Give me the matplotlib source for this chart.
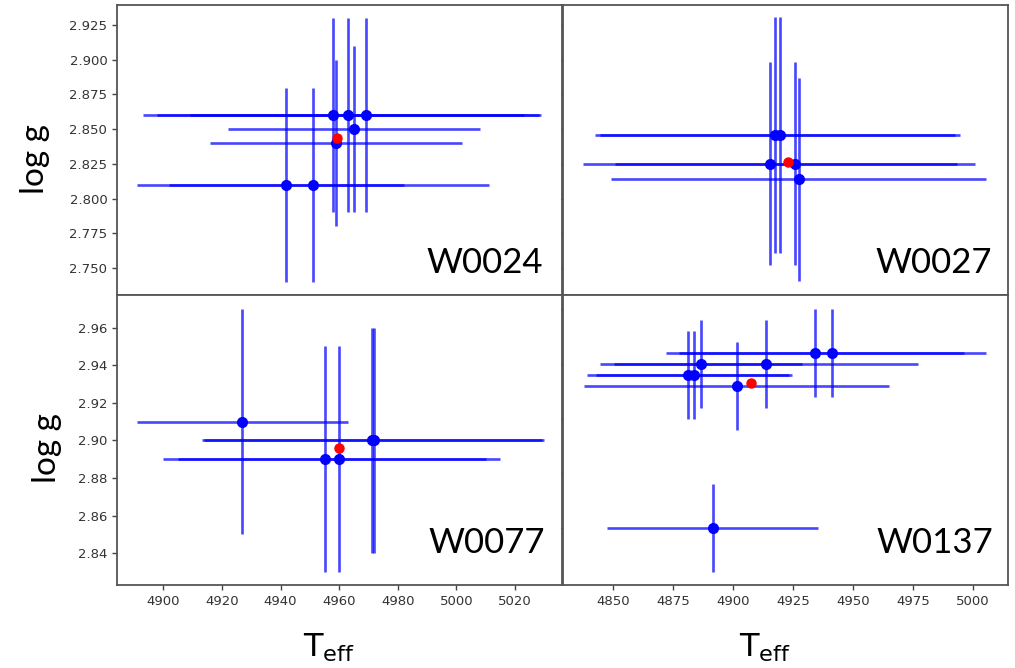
import numpy as np
import matplotlib
matplotlib.use("Agg")
import matplotlib.pyplot as plt

plt.rcParams["mathtext.fontset"] = "custom"
plt.rcParams["mathtext.rm"] = "Lato"
plt.rcParams["mathtext.it"] = "Lato:italic"

#----Data----

teff_w0024 = [4942, 4951, 4958, 4963, 4969, 4965, 4959]
logg_w0024 = [2.81, 2.81, 2.86, 2.86, 2.86, 2.85, 2.84]
teff_err_w0024 = [40, 60, 65, 65, 60, 43, 43]
logg_err_w0024 = [0.07, 0.07, 0.07, 0.07, 0.07, 0.06, 0.06]
mean_w0024 = [4959.4, 2.844]

teff_w0027 = [4915.3, 4917.5, 4919.5, 4925.8, 4927.2]
logg_w0027 = [2.825, 2.846, 2.846, 2.825, 2.814]
teff_err_w0027 = [78, 75, 75, 75, 78]
logg_err_w0027 = [0.073, 0.085, 0.085, 0.073, 0.073]
mean_w0027 = [4922.6, 2.826]

teff_w0077 = [4927, 4955, 4960, 4971.2, 4971.8]
logg_w0077 = [2.91, 2.89, 2.89, 2.90, 2.90]
teff_err_w0077 = [36, 55, 55, 58, 58]
logg_err_w0077 = [0.06, 0.06, 0.06, 0.06, 0.06]
mean_w0077 = [4960, 2.896]

teff_w0137 = [4881.2, 4883.6, 4886.5, 4913.6, 4901.4, 4934, 4941.2, 4891.4]
logg_w0137 = [2.936, 2.936, 2.940, 2.940, 2.932, 2.944, 2.944, 2.880]
teff_err_w0137 = [42, 41, 42, 63.5, 63.5, 62, 64, 44]
logg_err_w0137 = [0.016, 0.016, 0.016, 0.016, 0.016, 0.016, 0.016, 0.016]
mean_w0137 = [4907.3, 2.933]

#----Layout (pixels)----
W, H = 1015, 668

def rect(l, r, t, b):
    return [l / W, 1 - b / H, (r - l) / W, (b - t) / H]

fig = plt.figure(figsize=(W / 100, H / 100), dpi=100)

panels = [
    # name, teff, logg, xerr, yerr, mean, rect, xlim, ylim, yticks, xticks, left col, bottom row, label pos
    ("W0024", teff_w0024, logg_w0024, teff_err_w0024, logg_err_w0024, mean_w0024,
     rect(117, 562, 5, 295), (4884.2, 5036), (2.7306, 2.9394),
     np.arange(2.75, 2.926, 0.025), np.arange(4900, 5021, 20), True, False, (0.957, 0.076)),
    ("W0027", teff_w0027, logg_w0027, teff_err_w0027, logg_err_w0027, mean_w0027,
     rect(563, 1008, 5, 295), (4829, 5014.5), (2.7306, 2.9394),
     np.arange(2.75, 2.926, 0.025), np.arange(4850, 5001, 25), False, False, (0.964, 0.076)),
    ("W0077", teff_w0077, logg_w0077, teff_err_w0077, logg_err_w0077, mean_w0077,
     rect(117, 562, 295, 585), (4884.2, 5036), (2.8231, 2.9774),
     np.arange(2.84, 2.961, 0.02), np.arange(4900, 5021, 20), True, True, (0.962, 0.110)),
    ("W0137", teff_w0137, logg_w0137, teff_err_w0137, logg_err_w0137, mean_w0137,
     rect(563, 1008, 295, 585), (4829, 5014.5), (2.8592, 2.9652),
     np.arange(2.88, 2.961, 0.02), np.arange(4850, 5001, 25), False, True, (0.966, 0.110)),
]

for name, tx, lg, xe, ye, mean, r, xl, yl, yt, xt, left_col, bottom_row, lab in panels:
    ax = fig.add_axes(r)
    ax.errorbar(tx, lg, xerr=xe, yerr=ye, fmt="o", color="blue", ecolor=(0, 0, 1, 0.72),
                elinewidth=1.9, markersize=7, capsize=0, zorder=2)
    ax.plot(mean[0], mean[1], "o", color="red", markersize=6.5, zorder=3)
    ax.set_xlim(xl)
    ax.set_ylim(yl)
    ax.set_yticks(yt)
    ax.set_xticks(xt)
    ax.tick_params(labelsize=9.5, labelcolor="#333333", color="#444444", length=3.5, width=1)
    if not left_col:
        ax.tick_params(axis="y", labelleft=False, length=1.5)
    if not bottom_row:
        ax.tick_params(axis="x", bottom=False, labelbottom=False)
    for sp in ax.spines.values():
        sp.set_color("#555555")
        sp.set_linewidth(1.3)
    ax.text(lab[0], lab[1], name, transform=ax.transAxes, ha="right", va="baseline",
            fontsize=25, family="Lato", color="black")

fig.text(35 / W, 1 - 159 / H, "log g", rotation=90, ha="center", va="center", fontsize=24, family="Lato")
fig.text(47 / W, 1 - 448 / H, "log g", rotation=90, ha="center", va="center", fontsize=24, family="Lato")
fig.text(329 / W, 1 - 657 / H, r"$\mathregular{T_{eff}}$", ha="center", va="baseline", fontsize=23)
fig.text(765 / W, 1 - 657 / H, r"$\mathregular{T_{eff}}$", ha="center", va="baseline", fontsize=23)

plt.savefig("out.png", dpi=100)
